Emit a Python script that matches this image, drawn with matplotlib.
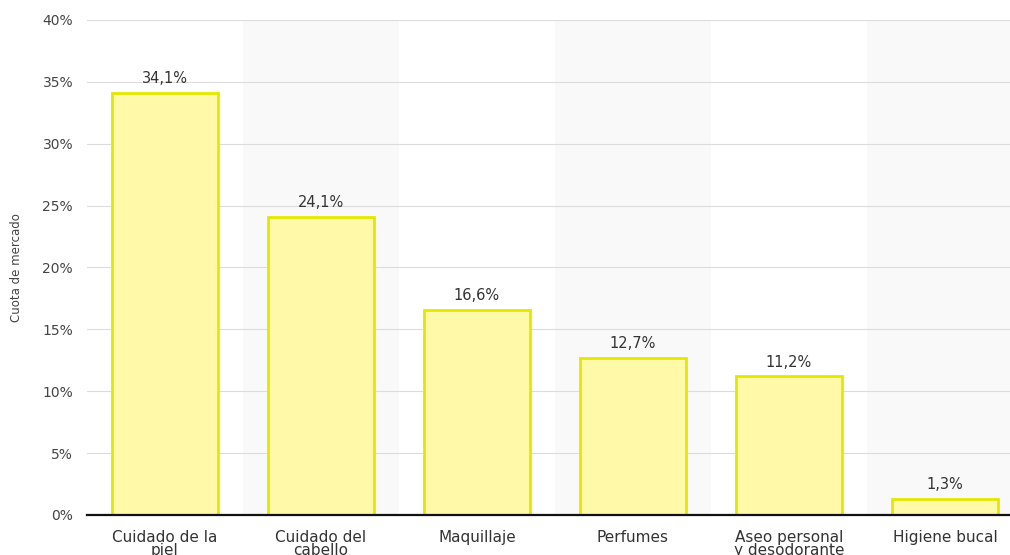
import matplotlib
matplotlib.use("Agg")
import matplotlib.pyplot as plt

categories = ["Cuidado de la\npiel", "Cuidado del\ncabello", "Maquillaje",
              "Perfumes", "Aseo personal\ny desodorante", "Higiene bucal"]
shares = [34.1, 24.1, 16.6, 12.7, 11.2, 1.3]
value_labels = ["34,1%", "24,1%", "16,6%", "12,7%", "11,2%", "1,3%"]
y_ticks = [0, 5, 10, 15, 20, 25, 30, 35, 40]
y_tick_labels = ["0%", "5%", "10%", "15%", "20%", "25%", "30%", "35%", "40%"]

plt.rcParams["font.family"] = ["DejaVu Sans"]

fig = plt.figure(figsize=(10.10, 5.55), dpi=100)
ax = fig.add_axes([0.0861, 0.0721, 0.9267, 0.8919])

x = list(range(len(categories)))

# alternating light column bands
for i in x:
    if i % 2 == 1:
        ax.axvspan(i - 0.5, i + 0.5, color="#f9f9f9", zorder=0, lw=0)

ax.bar(x, shares, width=0.68, color="#fff9a8", edgecolor="#e4e800",
       linewidth=2.0, zorder=3)

for xi, v, lab in zip(x, shares, value_labels):
    ax.text(xi, v + 0.55, lab, ha="center", va="bottom", fontsize=10.5,
            color="#333333", zorder=4)

ax.set_xlim(-0.5, len(categories) - 0.5)
ax.set_ylim(0, 40)
ax.set_yticks(y_ticks)
ax.set_yticklabels(y_tick_labels, fontsize=10, color="#444444")
ax.set_xticks(x)
ax.set_xticklabels(categories, fontsize=11, color="#333333", linespacing=0.85)
ax.tick_params(axis="both", length=0)
ax.tick_params(axis="y", pad=10)
ax.tick_params(axis="x", pad=11)

ax.yaxis.grid(True, color="#dcdcdc", linewidth=0.8, linestyle="-", zorder=1)
ax.xaxis.grid(False)

for side in ("top", "right", "left"):
    ax.spines[side].set_visible(False)
ax.spines["bottom"].set_color("#111111")
ax.spines["bottom"].set_linewidth(1.6)
ax.spines["bottom"].set_zorder(5)

ax.set_ylabel("Cuota de mercado", fontsize=8.5, color="#444444")
ax.yaxis.set_label_coords(-0.068, 0.5)

fig.savefig("out.png", dpi=100, facecolor="white")
